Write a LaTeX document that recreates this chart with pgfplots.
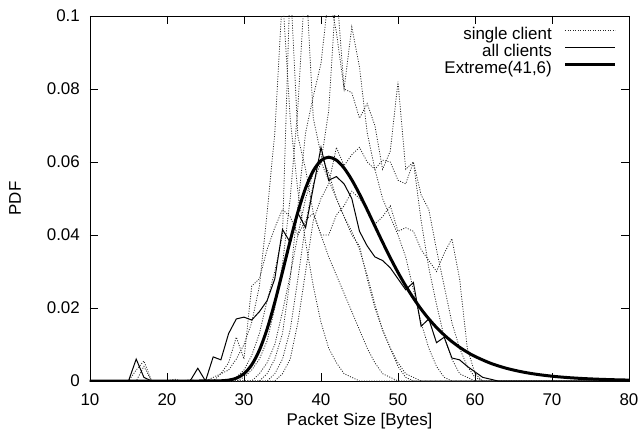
\documentclass[border=0pt]{standalone}
\usepackage{fontspec}
\setmainfont{Liberation Sans}
\usepackage{pgfplots}
\pgfplotsset{compat=1.18}

\pgfplotsset{
  single/.style={black!85, line width=0.8bp, dash pattern=on 1bp off 1.5bp},
}

\begin{document}
\begin{tikzpicture}
\useasboundingbox (-90bp,-56bp) rectangle (548bp,381bp);
\begin{axis}[
  at={(0,0)}, anchor=south west,
  scale only axis,
  width=539bp, height=365bp,
  xmin=10, xmax=80, ymin=0, ymax=0.1,
  xtick={10,20,...,80},
  ytick={0,0.02,0.04,0.06,0.08,0.1},
  yticklabels={0,0.02,0.04,0.06,0.08,0.1},
  tick align=inside,
  major tick length=8bp,
  tick style={black, line width=0.8bp},
  axis line style={black, line width=0.8bp},
  /pgf/number format/assume math mode=true,
  tick label style={font=\fontsize{17}{20}\selectfont},
  yticklabel style={inner sep=0pt, xshift=-10bp},
  xticklabel style={inner sep=0pt, yshift=-12bp},
  xlabel={Packet Size [Bytes]},
  ylabel={PDF},
  every axis x label/.style={at={(axis description cs:0.5,-0.11)}, anchor=center,
    font=\fontsize{17}{20}\selectfont},
  every axis y label/.style={at={(axis description cs:-0.139,0.5)}, rotate=90, anchor=center,
    font=\fontsize{17}{20}\selectfont},
  legend style={at={(axis description cs:1,1)}, anchor=north east, xshift=-12bp, yshift=-11bp,
    draw=none, fill=none, inner sep=0pt, font=\fontsize{17}{20}\selectfont,
    row sep=2bp, column sep=12bp,
    nodes={inner sep=0pt, text height=12bp, text depth=3bp}},
  legend cell align=right,
  legend plot pos=right,
  legend image code/.code={\draw[#1] (0bp,4bp) -- (50bp,4bp);},
]
% single clients
\addplot[single] coordinates {(10,0)(15,0)(16,0.003)(17,0.0055)(18,0)(25,0)(26,0.001)(27,0.002)(28,0.003)(29,0.006)(30,0.010)(31,0.016)(32,0.026)(33,0.046)(34,0.068)(35,0.106)(36,0.072)(37,0.052)(38,0.038)(39,0.026)(40,0.016)(41,0.009)(42,0.005)(43,0.002)(44,0.001)(45,0)(80,0)};
\addlegendentry{single client}
\addplot[single, forget plot] coordinates {(10,0)(16,0)(17,0.004)(18,0)(28,0)(29,0.001)(30,0.003)(31,0.007)(32,0.013)(33,0.022)(34,0.030)(35,0.040)(36,0.110)(37,0.067)(38,0.058)(39,0.046)(40,0.040)(41,0.034)(42,0.029)(43,0.024)(44,0.019)(45,0.014)(46,0.009)(47,0.005)(48,0.002)(49,0.001)(50,0)(80,0)};
\addplot[single, forget plot] coordinates {(10,0)(29,0)(30,0.001)(31,0.003)(32,0.006)(33,0.011)(34,0.020)(35,0.032)(36,0.050)(37,0.075)(38,0.112)(39,0.072)(40,0.062)(41,0.057)(42,0.050)(43,0.045)(44,0.041)(45,0.036)(46,0.029)(47,0.021)(48,0.014)(49,0.009)(50,0.005)(51,0.002)(52,0.001)(53,0)(80,0)};
\addplot[single, forget plot] coordinates {(10,0)(20,0)(21,0.0005)(22,0)(32,0)(33,0.002)(34,0.006)(35,0.013)(36,0.028)(37,0.048)(38,0.068)(39,0.078)(40,0.087)(41,0.106)(42,0.0956)(43,0.080)(44,0.097)(45,0.086)(46,0.068)(47,0.058)(48,0.050)(49,0.045)(50,0.040)(51,0.034)(52,0.025)(53,0.016)(54,0.009)(55,0.004)(56,0.001)(57,0)(80,0)};
\addplot[single, forget plot] coordinates {(10,0)(33,0)(34,0.002)(35,0.006)(36,0.014)(37,0.028)(38,0.043)(39,0.054)(40,0.060)(41,0.074)(42,0.108)(43,0.080)(44,0.079)(45,0.072)(46,0.076)(47,0.070)(48,0.058)(49,0.063)(50,0.082)(51,0.058)(52,0.060)(53,0.044)(54,0.031)(55,0.021)(56,0.012)(57,0.006)(58,0.002)(59,0.001)(60,0)(80,0)};
\addplot[single, forget plot] coordinates {(10,0)(34,0)(35,0.002)(36,0.006)(37,0.016)(38,0.030)(39,0.044)(40,0.050)(41,0.054)(42,0.064)(43,0.059)(44,0.062)(45,0.064)(46,0.060)(47,0.058)(48,0.0605)(49,0.060)(50,0.055)(51,0.054)(52,0.060)(53,0.051)(54,0.047)(55,0.036)(56,0.026)(57,0.016)(58,0.009)(59,0.004)(60,0.001)(61,0)(80,0)};
\addplot[single, forget plot] coordinates {(10,0)(22,0)(23,0.0004)(24,0)(26,0)(27,0.002)(28,0.005)(29,0.012)(30,0.006)(31,0.026)(32,0.028)(33,0.036)(34,0.042)(35,0.047)(36,0.045)(37,0.040)(38,0.044)(39,0.046)(40,0.040)(41,0.040)(42,0.0455)(43,0.048)(44,0.052)(45,0.050)(46,0.047)(47,0.043)(48,0.045)(49,0.048)(50,0.041)(51,0.042)(52,0.041)(53,0.036)(54,0.033)(55,0.030)(56,0.035)(57,0.039)(58,0.028)(59,0.009)(60,0.002)(61,0)(80,0)};
\addplot[single, forget plot] coordinates {(10,0)(31,0)(32,0.002)(33,0.005)(34,0.010)(35,0.019)(36,0.029)(37,0.040)(38,0.050)(39,0.057)(40,0.060)(41,0.055)(42,0.050)(43,0.045)(44,0.040)(45,0.037)(46,0.028)(47,0.020)(48,0.014)(49,0.009)(50,0.004)(51,0.001)(52,0)(80,0)};
% all clients
\addplot[black, line width=1bp] coordinates {(10,0)(15,0)(16,0.006)(17,0.001)(18,0)(23,0)(24,0.0035)(25,0)(26,0.0066)(27,0.0058)(28,0.013)(29,0.017)(30,0.0175)(31,0.0167)(32,0.019)(33,0.022)(34,0.028)(35,0.0415)(36,0.038)(37,0.046)(38,0.042)(39,0.053)(40,0.064)(41,0.055)(42,0.056)(43,0.054)(44,0.050)(45,0.041)(46,0.037)(47,0.034)(48,0.033)(49,0.031)(50,0.028)(51,0.025)(52,0.027)(53,0.015)(54,0.017)(55,0.0105)(56,0.012)(57,0.0063)(58,0.0058)(59,0.004)(60,0.0025)(61,0.001)(62,0.0005)(63,0)(80,0)};
\addlegendentry{all clients}
% Extreme(41,6)
\addplot[black, line width=3bp, smooth] coordinates {(10,0)(20,0)(24,0)(26,0.00001)(27,0.000057)(28,0.000235)(29,0.00076)(30,0.002005)(31,0.004434)(32,0.008452)(33,0.014235)(34,0.021573)(35,0.029895)(36,0.038412)(37,0.046295)(38,0.052838)(39,0.05761)(40,0.060413)(41,0.061313)(42,0.060507)(43,0.05833)(44,0.055117)(45,0.05121)(46,0.046903)(47,0.042442)(48,0.038015)(49,0.033752)(50,0.02975)(51,0.02606)(52,0.022708)(53,0.019695)(54,0.017028)(55,0.014667)(56,0.012601)(57,0.010806)(58,0.009243)(59,0.007895)(60,0.006733)(62,0.004882)(64,0.003529)(66,0.002545)(68,0.001831)(70,0.001316)(72,0.000945)(74,0.000678)(76,0.000487)(78,0.000349)(80,0.00025)};
\addlegendentry{Extreme(41,6)}
\end{axis}
\end{tikzpicture}
\end{document}
